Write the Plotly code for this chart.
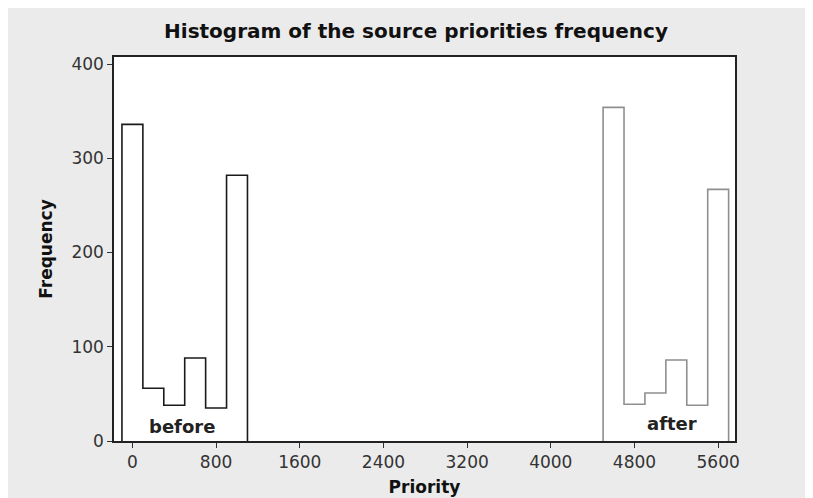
import plotly.graph_objects as go

# Data (histogram bins of width 200)
bin_width = 200
before_centers = [0, 200, 400, 600, 800, 1000]
before_counts = [336, 56, 38, 88, 35, 282]
after_centers = [4600, 4800, 5000, 5200, 5400, 5600]
after_counts = [354, 39, 51, 86, 38, 267]
x_ticks = [0, 800, 1600, 2400, 3200, 4000, 4800, 5600]
y_ticks = [0, 100, 200, 300, 400]

FONT = "DejaVu Sans"


def outline(centers, counts, width):
    """Step outline of a histogram (envelope only)."""
    xs, ys = [centers[0] - width / 2], [0]
    for c, h in zip(centers, counts):
        xs += [c - width / 2, c + width / 2]
        ys += [h, h]
    xs.append(centers[-1] + width / 2)
    ys.append(0)
    return xs, ys


fig = go.Figure()
bx, by = outline(before_centers, before_counts, bin_width)
ax, ay = outline(after_centers, after_counts, bin_width)
fig.add_trace(go.Scatter(x=bx, y=by, mode="lines", line=dict(color="#1a1a1a", width=1.6),
                         name="before", showlegend=False, hoverinfo="skip"))
fig.add_trace(go.Scatter(x=ax, y=ay, mode="lines", line=dict(color="#8f8f8f", width=1.6),
                         name="after", showlegend=False, hoverinfo="skip"))

fig.add_annotation(x=472, y=15.5, text="<b>before</b>", showarrow=False,
                   font=dict(family=FONT, size=18, color="#222"))
fig.add_annotation(x=5154, y=18.5, text="<b>after</b>", showarrow=False,
                   font=dict(family=FONT, size=18, color="#222"))

W, H = 797, 490
fig.update_layout(
    width=W, height=H,
    margin=dict(l=106, r=70, t=49, b=57),
    paper_bgcolor="#ebebeb", plot_bgcolor="white",
    title=dict(text="<b>Histogram of the source priorities frequency</b>",
               x=408 / W, xanchor="center", y=1 - 23 / H, yanchor="middle", yref="container",
               font=dict(family=FONT, size=20, color="#111")),
    font=dict(family=FONT, color="#333"),
    xaxis=dict(range=[-176, 5761], tickmode="array", tickvals=x_ticks,
               ticks="outside", ticklen=5, tickcolor="#333", showgrid=False, zeroline=False,
               showline=True, linecolor="#222", linewidth=1.5, mirror=True, automargin=False,
               tickfont=dict(family=FONT, size=17, color="#333"),
               title=dict(text="<b>Priority</b>", font=dict(family=FONT, size=17, color="#111"), standoff=10)),
    yaxis=dict(range=[0, 407.5], tickmode="array", tickvals=y_ticks,
               ticks="outside", ticklen=5, tickcolor="#333", showgrid=False, zeroline=False,
               showline=True, linecolor="#222", linewidth=1.5, mirror=True, automargin=False,
               tickfont=dict(family=FONT, size=17, color="#333"),
               title=dict(text="<b>Frequency</b>", font=dict(family=FONT, size=17, color="#111"), standoff=14)),
)

fig.write_html("out.html")
